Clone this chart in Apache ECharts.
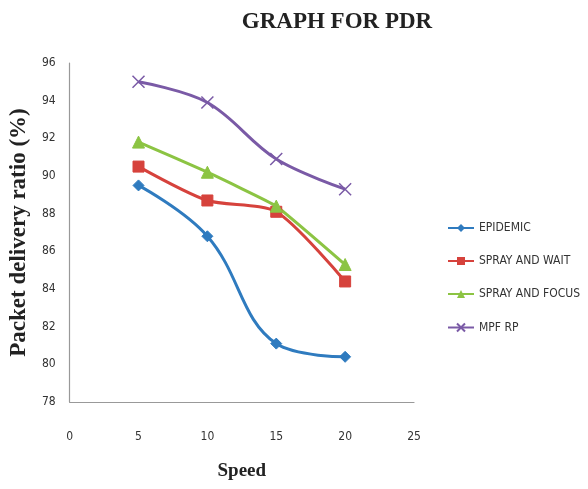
<!DOCTYPE html>
<html>
<head>
<meta charset="utf-8">
<script src="https://cdn.jsdelivr.net/npm/echarts@6/dist/echarts.min.js"></script>
<style>
  html, body { margin: 0; padding: 0; background: #fff; }
  #chart { width: 588px; height: 489px; }
</style>
</head>
<body>
<div id="chart"></div>
<script>
// Packet delivery ratio (%) against node speed for four routing protocols
const speeds = [5, 10, 15, 20];
const epidemic = [89.5, 86.8, 81.1, 80.4];
const sprayAndWait = [90.5, 88.7, 88.1, 84.4];
const sprayAndFocus = [91.8, 90.2, 88.4, 85.3];
const mpfRp = [95.0, 93.9, 90.9, 89.3];
const seriesNames = ['EPIDEMIC', 'SPRAY AND WAIT', 'SPRAY AND FOCUS', 'MPF RP'];

const pairs = vals => speeds.map((s, i) => [s, vals[i]]);
const crossPath = 'path://M0,0L10,10M10,0L0,10';

const serif = '"Liberation Serif", "DejaVu Serif", serif';
const narrow = '"DejaVu Sans Condensed", "Liberation Sans Narrow", "Liberation Sans", sans-serif';

function makeSeries(name, vals, color, symbol, size, smooth, extra) {
  return Object.assign({
    name: name,
    type: 'line',
    data: pairs(vals),
    smooth: smooth,
    symbol: symbol,
    symbolSize: size,
    lineStyle: { color: color, width: 3 },
    itemStyle: { color: color, borderColor: color },
    emphasis: { disabled: true }
  }, extra || {});
}

const chart = echarts.init(document.getElementById('chart'));
chart.setOption({
  animation: false,
  title: {
    text: 'GRAPH FOR PDR',
    left: 332, top: 6,
    textAlign: 'center',
    textStyle: { fontFamily: serif, fontWeight: 'bold', fontSize: 23, color: '#222' }
  },
  grid: { left: 69, top: 63, right: 174, bottom: 87 },
  legend: {
    orient: 'vertical',
    left: 442, top: 217,
    itemGap: 21,
    itemWidth: 26, itemHeight: 10,
    data: seriesNames,
    textStyle: { fontFamily: narrow, fontSize: 12, color: '#333' }
  },
  xAxis: {
    type: 'value',
    min: 0, max: 25, interval: 5,
    name: 'Speed',
    nameLocation: 'middle',
    nameGap: 60,
    nameTextStyle: { fontFamily: serif, fontWeight: 'bold', fontSize: 19, color: '#222' },
    axisLine: { lineStyle: { color: '#999', width: 1.2 } },
    axisTick: { show: false },
    splitLine: { show: false },
    axisLabel: { fontFamily: narrow, fontSize: 12, color: '#333', margin: 29 }
  },
  yAxis: {
    type: 'value',
    min: 78, max: 96, interval: 2,
    name: 'Packet delivery ratio (%)',
    nameLocation: 'middle',
    nameRotate: 90,
    nameGap: 34,
    nameTextStyle: { fontFamily: serif, fontWeight: 'bold', fontSize: 23, color: '#222' },
    axisLine: { show: true, lineStyle: { color: '#999', width: 1.2 } },
    axisTick: { show: false },
    splitLine: { show: false },
    axisLabel: { fontFamily: narrow, fontSize: 12, color: '#333', margin: 14 }
  },
  series: [
    makeSeries(seriesNames[0], epidemic, '#2f7bbf', 'diamond', 11, 0.4),
    makeSeries(seriesNames[1], sprayAndWait, '#d6423c', 'rect', 11, 0.25),
    makeSeries(seriesNames[2], sprayAndFocus, '#8cc443', 'triangle', 12, 0.1),
    makeSeries(seriesNames[3], mpfRp, '#7a5aa6', crossPath, 12, 0.35,
      { itemStyle: { color: 'none', borderColor: '#7a5aa6', borderWidth: 1.5 } })
  ]
});
</script>
</body>
</html>
